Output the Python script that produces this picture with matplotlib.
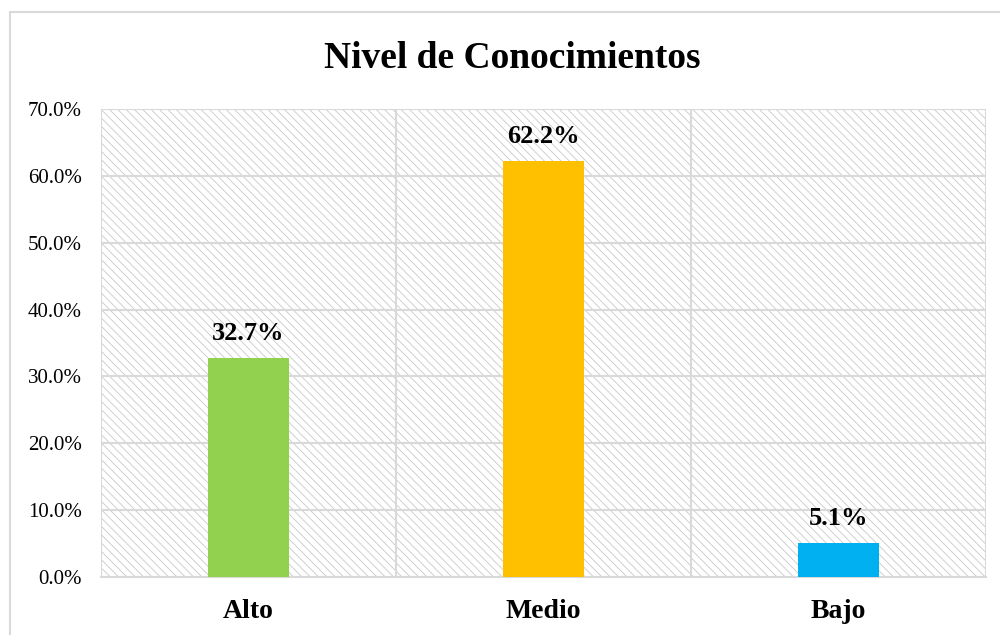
import numpy as np
import matplotlib.pyplot as plt
from matplotlib.patches import Rectangle
from matplotlib.ticker import FuncFormatter

categories = ['Alto', 'Medio', 'Bajo']
values = [32.7, 62.2, 5.1]
colors = ['#92d050', '#ffc000', '#00b0f0']
yticks = [0, 10, 20, 30, 40, 50, 60, 70]

plt.rcParams['font.family'] = ['Liberation Serif', 'DejaVu Serif']
plt.rcParams['hatch.color'] = '#c8c8c8'
plt.rcParams['hatch.linewidth'] = 0.6

fig = plt.figure(figsize=(10, 6.35), dpi=100)
ax = fig.add_axes([0.101, 0.0913, 0.885, 0.737])

# outer chart border (only left and top edges fall inside the image)
fig.patches.append(Rectangle((0.010, -0.05), 1.2, 1.031,
                             transform=fig.transFigure, fill=False,
                             edgecolor='#d9d9d9', linewidth=1.5))

x = np.arange(len(categories))
ax.set_xlim(-0.5, 2.5)
ax.set_ylim(0, 70)

# hatched plot background
ax.add_patch(Rectangle((-0.5, 0), 3, 70, facecolor='white', edgecolor='#c8c8c8',
                       hatch='\\\\\\\\', linewidth=0, zorder=0))

bars = ax.bar(x, values, width=0.275, color=colors, zorder=3)
for xi, v in zip(x, values):
    ax.text(xi, v + 2.7, f'{v:.1f}%', ha='center', va='baseline',
            fontsize=19, fontweight='bold', zorder=4)

ax.set_yticks(yticks)
ax.yaxis.set_major_formatter(FuncFormatter(lambda v, p: f'{v:.1f}%'))
ax.set_xticks(x)
ax.set_xticklabels(categories, fontsize=20, fontweight='bold')
ax.set_xticks([-0.5, 0.5, 1.5, 2.5], minor=True)
ax.tick_params(axis='y', labelsize=15, length=0, pad=14)
ax.tick_params(axis='x', which='both', length=0, pad=16)

ax.grid(True, axis='y', color='#d9d9d9', linewidth=1.5, zorder=1)
ax.grid(True, axis='x', which='minor', color='#d9d9d9', linewidth=1.5, zorder=1)
ax.grid(False, axis='x', which='major')
ax.set_axisbelow(True)
for s in ['top', 'right', 'left']:
    ax.spines[s].set_visible(False)
ax.spines['bottom'].set_color('#d9d9d9')
ax.spines['bottom'].set_linewidth(1.5)

fig.text(0.512, 1 - 68 / 635, 'Nivel de Conocimientos', ha='center', va='baseline',
         fontsize=27, fontweight='bold')

plt.savefig('out.png', dpi=100)
